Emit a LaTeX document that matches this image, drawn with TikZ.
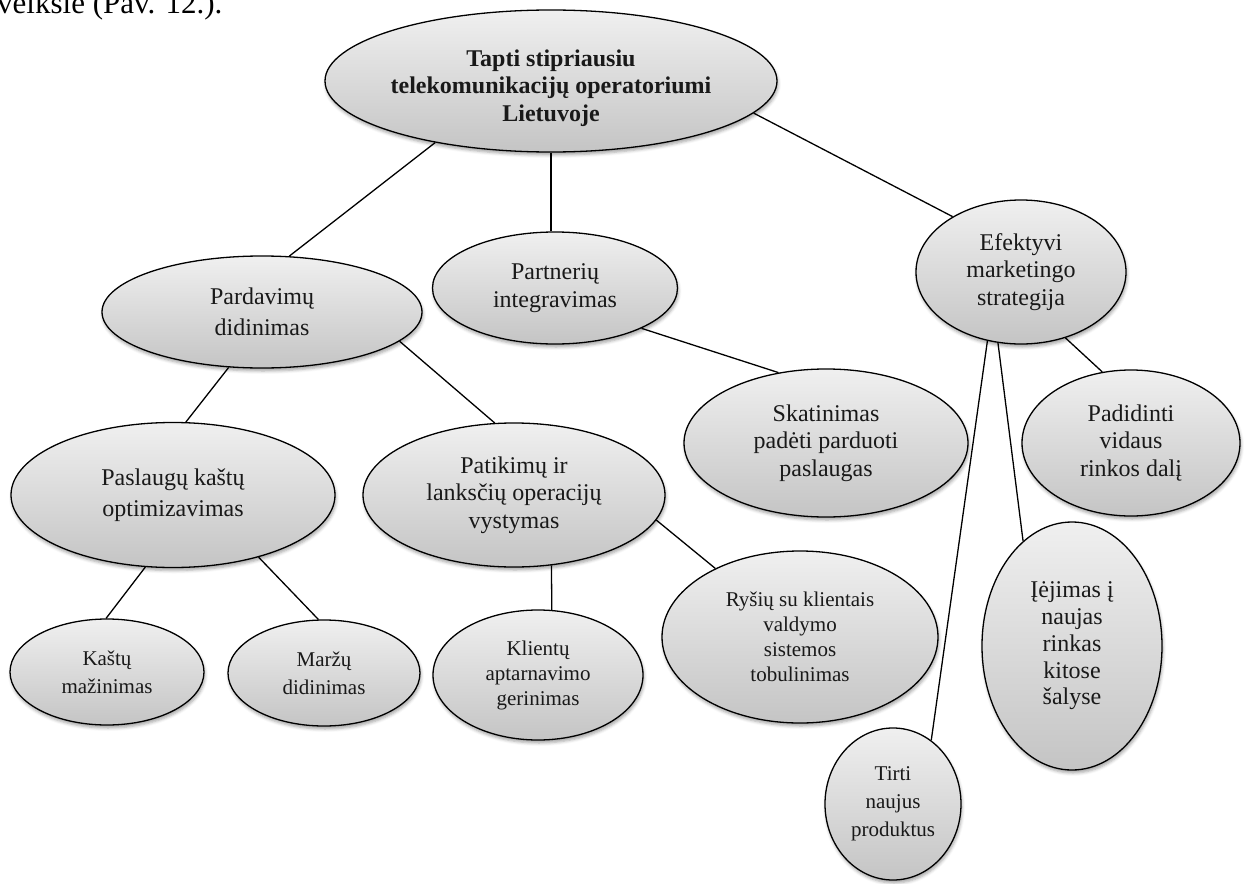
\documentclass[tikz,border=0pt]{standalone}
\usepackage{fontspec}
\setmainfont{Liberation Serif}
\usetikzlibrary{shapes.geometric,shadows.blur}
\begin{document}
\begin{tikzpicture}[x=1bp,y=-1bp,
  bubble/.style={ellipse, draw=black, line width=1.3bp,
    top color=white!94!black, bottom color=white!77!black,
    inner sep=0pt, align=center, text=black!90,
    blur shadow={shadow xshift=1bp, shadow yshift=-3bp,
      shadow blur radius=3bp, shadow opacity=35}},
  big/.style={font=\fontsize{24bp}{27.5bp}\selectfont},
  bigwide/.style={font=\fontsize{24bp}{31bp}\selectfont},
  small/.style={font=\fontsize{21bp}{25bp}\selectfont},
  smallwide/.style={font=\fontsize{21bp}{28bp}\selectfont},
  link/.style={line width=1.3bp, black}]
\useasboundingbox (0,0) rectangle (1248,884);

% caption fragment at the top edge
\node[anchor=base west, inner sep=0pt, font=\fontsize{31bp}{31bp}\selectfont]
  (cap) at (-3,13) {veiksle (Pav. 12.).};

% goal: ellipse, with its bold title set slightly below the centre
\node[bubble, minimum width=452bp, minimum height=142bp] (T) at (551,81) {};
\node[inner sep=0pt, align=center, text=black!90,
  font=\fontsize{24bp}{27.5bp}\selectfont\bfseries]
  (Tt) at ([yshift=-7bp]T.center)
  {Tapti stipriausiu\\telekomunikacijų operatoriumi\\Lietuvoje};

% second level
\node[bubble, bigwide, minimum width=320bp, minimum height=112bp]
  (P1) at (262,312) {Pardavimų\\didinimas};
\node[bubble, big, minimum width=245bp, minimum height=112bp]
  (P2) at (555,288) {Partnerių\\integravimas};
\node[bubble, big, minimum width=210bp, minimum height=144bp]
  (P3) at (1021,272) {Efektyvi\\marketingo\\strategija};

% third level
\node[bubble, bigwide, minimum width=324bp, minimum height=145bp]
  (A) at (173,495) {Paslaugų kaštų\\optimizavimas};
\node[bubble, big, minimum width=302bp, minimum height=144bp]
  (B) at (514,495) {Patikimų ir\\lanksčių operacijų\\vystymas};
\node[bubble, big, minimum width=284bp, minimum height=148bp]
  (C) at (826,443) {Skatinimas\\padėti parduoti\\paslaugas};
\node[bubble, big, minimum width=218bp, minimum height=146bp]
  (D) at (1131,443) {Padidinti\\vidaus\\rinkos dalį};

% fourth level
\node[bubble, smallwide, minimum width=194bp, minimum height=106bp]
  (E) at (107,672) {Kaštų\\mažinimas};
\node[bubble, smallwide, minimum width=192bp, minimum height=106bp]
  (F) at (324,673) {Maržų\\didinimas};
\node[bubble, small, minimum width=210bp, minimum height=130bp]
  (G) at (538,675) {Klientų\\aptarnavimo\\gerinimas};
\node[bubble, small, minimum width=276bp, minimum height=172bp]
  (H) at (800,637) {Ryšių su klientais\\valdymo\\sistemos\\tobulinimas};
\node[bubble, font=\fontsize{24bp}{26.7bp}\selectfont,
  minimum width=180bp, minimum height=248bp]
  (I) at (1072,646) {Įėjimas į\\naujas\\rinkas\\kitose\\šalyse};
\node[bubble, smallwide, minimum width=136bp, minimum height=152bp]
  (J) at (893,804) {Tirti\\naujus\\produktus};

% connectors
\draw[link] (T.208) -- (P1.64);
\draw[link] (T.south) -- (T.south |- P2.north);
\draw[link] (T.351) -- (P3.141);
\draw[link] (P1.239) -- (A.80);
\draw[link] (P1.348) -- (B.105);
\draw[link] (P2.335) -- (C.124);
\draw[link] (P3.304) -- (D.112);
\draw[link] (P3.244) -- (J.59);
\draw[link] (P3.252) -- (I.115);
\draw[link] (A.249) -- (E.91);
\draw[link] (A.324) -- (F.96);
\draw[link] (B.298) -- (G.78);
\draw[link] (B.350) -- (H.141);
\end{tikzpicture}
\end{document}
